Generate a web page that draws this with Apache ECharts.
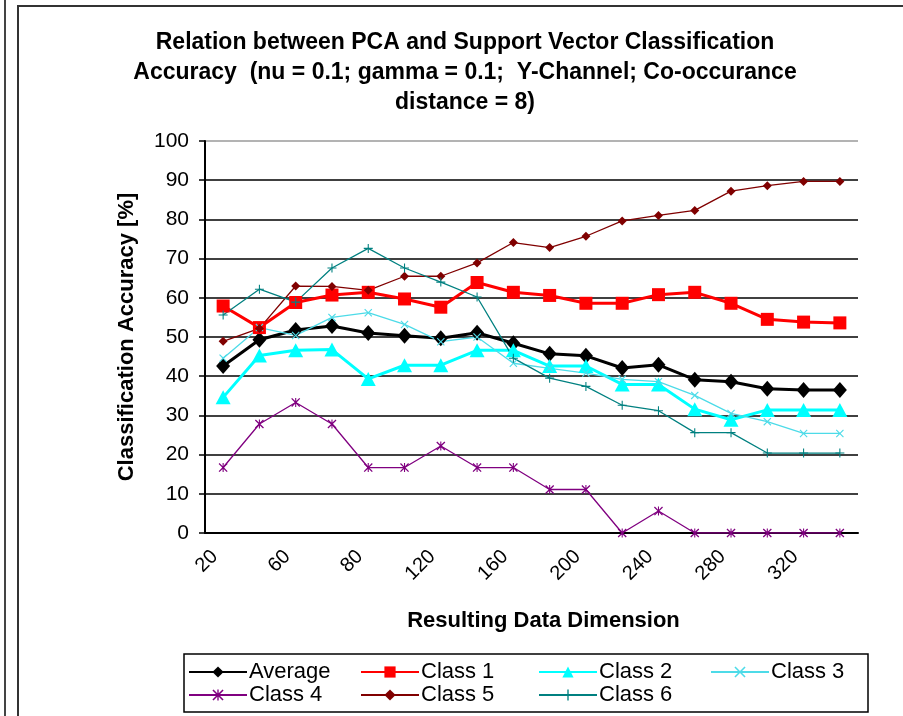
<!DOCTYPE html>
<html>
<head>
<meta charset="utf-8">
<script src="https://cdn.jsdelivr.net/npm/echarts@6/dist/echarts.min.js"></script>
<style>
  html, body { margin: 0; padding: 0; background: #fff; }
  #chart { width: 903px; height: 716px; }
</style>
</head>
<body>
<div id="chart"></div>
<script>
const dims = ['20', '40', '60', '70', '80', '100', '120', '140', '160', '180', '200', '220', '240', '260', '280', '300', '320', '340'];
const yTicks = [0, 10, 20, 30, 40, 50, 60, 70, 80, 90, 100];

const average = [42.6, 49.3, 51.8, 52.8, 51.0, 50.3, 49.7, 51.1, 48.4, 45.7, 45.2, 42.1, 42.9, 39.1, 38.6, 36.8, 36.5, 36.5];
const class1 = [57.9, 52.4, 58.8, 60.7, 61.4, 59.7, 57.6, 63.9, 61.4, 60.6, 58.6, 58.6, 60.8, 61.4, 58.6, 54.5, 53.8, 53.6];
const class2 = [34.6, 45.3, 46.6, 46.8, 39.3, 42.8, 42.8, 46.6, 46.6, 42.6, 42.6, 37.9, 37.9, 31.6, 28.9, 31.4, 31.4, 31.4];
const class3 = [44.6, 52.4, 50.4, 55.0, 56.2, 53.2, 48.8, 50.0, 43.3, 42.0, 40.8, 39.2, 38.6, 35.1, 30.5, 28.4, 25.4, 25.4];
const class4 = [16.7, 27.8, 33.3, 27.8, 16.7, 16.7, 22.2, 16.7, 16.7, 11.1, 11.1, 0, 5.6, 0, 0, 0, 0, 0];
const class5 = [48.9, 52.2, 63.0, 62.9, 61.9, 65.5, 65.5, 68.9, 74.1, 72.8, 75.7, 79.6, 81.0, 82.3, 87.2, 88.6, 89.7, 89.7];
const class6 = [55.6, 62.2, 58.9, 67.6, 72.6, 67.6, 64.0, 60.2, 44.6, 39.5, 37.4, 32.6, 31.2, 25.6, 25.6, 20.4, 20.4, 20.4];

const font = "'Liberation Sans', Arial, sans-serif";

// marker shapes Excel uses that echarts doesn't have
const xMark = 'path://M0,1L1,0L5,4L9,0L10,1L6,5L10,9L9,10L5,6L1,10L0,9L4,5Z';
const starMark = 'path://M0,1L1,0L5,4L9,0L10,1L6,5L10,9L9,10L5,6L1,10L0,9L4,5ZM4.4,0L5.6,0L5.6,10L4.4,10Z';
const plusMark = 'path://M4.4,0L5.6,0L5.6,4.4L10,4.4L10,5.6L5.6,5.6L5.6,10L4.4,10L4.4,5.6L0,5.6L0,4.4L4.4,4.4Z';

const chart = echarts.init(document.getElementById('chart'));

function line(name, data, color, width, symbol, size) {
  return {
    name: name,
    type: 'line',
    data: data,
    symbol: symbol,
    symbolSize: size,
    lineStyle: { color: color, width: width },
    itemStyle: { color: color, borderWidth: 0 },
    emphasis: { disabled: true },
    animation: false
  };
}

const legendSlots = [
  ['Average', 188, 661], ['Class 1', 360, 661], ['Class 2', 538, 661], ['Class 3', 710, 661],
  ['Class 4', 188, 684], ['Class 5', 360, 684], ['Class 6', 538, 684]
];

let option = {
  backgroundColor: '#fff',
  title: {
    text: 'Relation between PCA and Support Vector Classification\nAccuracy  (nu = 0.1; gamma = 0.1;  Y-Channel; Co-occurance\ndistance = 8)',
    left: 460,
    top: 23,
    textAlign: 'center',
    textStyle: { fontFamily: font, fontSize: 23, fontWeight: 'bold', color: '#000', lineHeight: 30 }
  },
  legend: legendSlots.map(s => ({
    data: [s[0]],
    left: s[1],
    top: s[2],
    padding: 0,
    itemWidth: 58,
    itemHeight: 14,
    itemGap: 0,
    selectedMode: false,
    textStyle: { fontFamily: font, fontSize: 22, color: '#000', padding: [0, 0, 0, -3] }
  })),
  grid: { left: 205, right: 45, top: 141, bottom: 183 },
  xAxis: {
    type: 'category',
    data: dims,
    boundaryGap: true,
    name: 'Resulting Data Dimension',
    nameLocation: 'middle',
    nameGap: 77,
    nameTextStyle: { fontFamily: font, fontSize: 22, fontWeight: 'bold', color: '#000', padding: [0, 0, 0, 24] },
    axisLine: { lineStyle: { color: '#000', width: 2 } },
    axisTick: { length: 6, alignWithLabel: false, interval: 0, lineStyle: { color: '#000', width: 1.5 } },
    axisLabel: { interval: 1, rotate: 45, margin: 12, padding: [0, 12, 0, 0], fontFamily: font, fontSize: 20, color: '#000' },
    splitLine: { show: false }
  },
  yAxis: {
    type: 'value',
    min: yTicks[0],
    max: yTicks[yTicks.length - 1],
    interval: 10,
    name: 'Classification Accuracy [%]',
    nameLocation: 'middle',
    nameGap: 67,
    nameTextStyle: { fontFamily: font, fontSize: 22, fontWeight: 'bold', color: '#000' },
    axisLine: { show: true, lineStyle: { color: '#000', width: 2 } },
    axisTick: { show: true, length: 6, lineStyle: { color: '#000', width: 1.5 } },
    axisLabel: { margin: 16, fontFamily: font, fontSize: 21, color: '#000' },
    splitLine: {
      lineStyle: {
        color: yTicks.map(v => (v === 100 ? '#9a9a9a' : '#000')),
        width: 1.5
      }
    }
  },
  graphic: [
    { type: 'line', shape: { x1: 5, y1: 0, x2: 5, y2: 716 }, style: { stroke: '#444', lineWidth: 2 } },
    { type: 'rect', shape: { x: 18, y: 6, width: 900, height: 720 }, style: { fill: 'none', stroke: '#333', lineWidth: 2 } },
    { type: 'rect', shape: { x: 184, y: 654, width: 684, height: 58 }, style: { fill: 'none', stroke: '#000', lineWidth: 1.5 } }
  ],
  series: [
    line('Average', average, '#000000', 3, 'diamond', [14, 16]),
    line('Class 1', class1, '#ff0000', 3, 'rect', 13),
    line('Class 2', class2, '#00ffff', 3, 'triangle', [15, 14]),
    line('Class 3', class3, '#4ddbe8', 1.3, xMark, 8),
    line('Class 4', class4, '#800080', 1.3, starMark, 9),
    line('Class 5', class5, '#800000', 1.3, 'diamond', 9),
    line('Class 6', class6, '#008080', 1.3, plusMark, 9)
  ]
};

chart.setOption(option);
</script>
</body>
</html>
